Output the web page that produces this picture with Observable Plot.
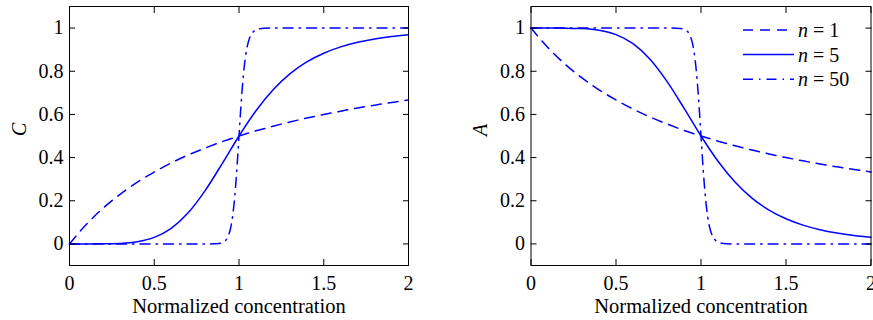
<!DOCTYPE html>
<html>
<head>
<meta charset="utf-8">
<script src="https://cdn.jsdelivr.net/npm/d3@7"></script>
<script src="https://cdn.jsdelivr.net/npm/@observablehq/plot@0.6"></script>
<style>
  body { margin: 0; background: #fff; }
  #wrap { position: relative; width: 873px; height: 320px; overflow: hidden; }
  #wrap > svg { position: absolute; top: 0; }
</style>
</head>
<body>
<div id="wrap"></div>
<script>
// ---- data ----
const xTicks = [0, 0.5, 1, 1.5, 2];
const yTicks = [0, 0.2, 0.4, 0.6, 0.8, 1];
const xLabel = "Normalized concentration";
const panelLabels = ["C", "A"];
const seriesNames = ["n = 1", "n = 5", "n = 50"];

const xSmooth = [0, 0.1, 0.2, 0.3, 0.4, 0.5, 0.6, 0.7, 0.8, 0.9, 1.0, 1.1, 1.2, 1.3, 1.4, 1.5, 1.6, 1.7, 1.8, 1.9, 2.0];
const C_n1 = [0, 0.091, 0.167, 0.231, 0.286, 0.333, 0.375, 0.412, 0.444, 0.474, 0.5, 0.524, 0.545, 0.565, 0.583, 0.6, 0.615, 0.63, 0.643, 0.655, 0.667];
const C_n5 = [0, 0, 0.0003, 0.0024, 0.0101, 0.0303, 0.0721, 0.1439, 0.2468, 0.3713, 0.5, 0.6169, 0.7133, 0.7878, 0.8432, 0.8836, 0.9129, 0.9342, 0.9497, 0.9612, 0.9697];
const A_n1 = [1, 0.909, 0.833, 0.769, 0.714, 0.667, 0.625, 0.588, 0.556, 0.526, 0.5, 0.476, 0.455, 0.435, 0.417, 0.4, 0.385, 0.37, 0.357, 0.345, 0.333];
const A_n5 = [1, 1, 0.9997, 0.9976, 0.9899, 0.9697, 0.9279, 0.8561, 0.7532, 0.6287, 0.5, 0.3831, 0.2867, 0.2122, 0.1568, 0.1164, 0.0871, 0.0658, 0.0503, 0.0388, 0.0303];

const xSteep = [0, 0.5, 0.8, 0.85, 0.88, 0.9, 0.91, 0.92, 0.93, 0.94, 0.95, 0.96, 0.97, 0.98, 0.99, 1, 1.01, 1.02, 1.03, 1.04, 1.05, 1.06, 1.07, 1.08, 1.09, 1.1, 1.12, 1.15, 1.2, 1.5, 2];
const C_n50 = [0, 0, 0, 0.0003, 0.0017, 0.0051, 0.0089, 0.0152, 0.0259, 0.0434, 0.0714, 0.115, 0.1791, 0.267, 0.377, 0.5, 0.6219, 0.7291, 0.8143, 0.8767, 0.9198, 0.9485, 0.9672, 0.9791, 0.9867, 0.9916, 0.9965, 0.9991, 1, 1, 1];
const A_n50 = [1, 1, 1, 0.9997, 0.9983, 0.9949, 0.9911, 0.9848, 0.9741, 0.9566, 0.9286, 0.885, 0.8209, 0.733, 0.623, 0.5, 0.3781, 0.2709, 0.1857, 0.1233, 0.0802, 0.0515, 0.0328, 0.0209, 0.0133, 0.0084, 0.0035, 0.0009, 0, 0, 0];

// ---- styles ----
const BLUE = "#0000ff";
const LW = 1.5;
const dashes = ["10,7", null, "10,6,1.5,6"];
const FONT = "'Liberation Serif', 'Times New Roman', serif";

const rows = (xs, ys) => xs.map((x, i) => ({x, y: ys[i]}));

function panel(label, series, {width, marginLeft, marginRight, labelDx}) {
  const lineMarks = series.map((s, i) =>
    Plot.line(rows(s.x, s.y), {
      x: "x", y: "y", stroke: BLUE, strokeWidth: LW,
      strokeDasharray: dashes[i], curve: "monotone-x"
    })
  );
  return Plot.plot({
    width, height: 320,
    marginLeft, marginRight, marginTop: 6, marginBottom: 55,
    style: {fontFamily: FONT, fontSize: "20px", color: "#000", background: "transparent"},
    x: {domain: [0, 2], label: null},
    y: {domain: [-0.1, 1.1], label: null},
    marks: [
      ...lineMarks,
      Plot.frame({stroke: "#000", strokeWidth: 1}),
      Plot.axisX({anchor: "bottom", ticks: xTicks, tickSize: 0, tickPadding: 10, tickFormat: d => String(d), label: null}),
      Plot.axisX({anchor: "bottom", ticks: xTicks, tickSize: -6, text: null, label: null}),
      Plot.axisX({anchor: "top", ticks: xTicks, tickSize: -6, text: null, label: null}),
      Plot.axisY({anchor: "left", ticks: yTicks, tickSize: 0, tickPadding: 6, tickFormat: d => String(d), label: null}),
      Plot.axisY({anchor: "left", ticks: yTicks, tickSize: -6, text: null, label: null}),
      Plot.axisY({anchor: "right", ticks: yTicks, tickSize: -6, text: null, label: null}),
      Plot.text([xLabel], {text: d => d, frameAnchor: "bottom", lineAnchor: "top", dy: 32.5, fontSize: 20.5}),
      Plot.text([label], {text: d => d, frameAnchor: "left", rotate: -90, lineAnchor: "bottom", dx: labelDx, fontSize: 20, fontStyle: "italic"})
    ]
  });
}

const wrap = document.getElementById("wrap");

const left = panel(panelLabels[0], [
  {x: xSmooth, y: C_n1}, {x: xSmooth, y: C_n5}, {x: xSteep, y: C_n50}
], {width: 436, marginLeft: 69, marginRight: 28, labelDx: -44});
left.style.left = "0px";
wrap.appendChild(left);

const right = panel(panelLabels[1], [
  {x: xSmooth, y: A_n1}, {x: xSmooth, y: A_n5}, {x: xSteep, y: A_n50}
], {width: 437, marginLeft: 94.5, marginRight: 2.5, labelDx: -44});
right.style.left = "436px";
wrap.appendChild(right);

// ---- legend (inside right panel, no box) ----
const leg = d3.select(wrap).append("svg")
  .attr("width", 873).attr("height", 320)
  .style("left", "0px").style("pointer-events", "none")
  .style("font-family", FONT).style("font-size", "20px");
const lineY = [30, 54.5, 79.3];
const textY = [37, 61.5, 86];
seriesNames.forEach((name, i) => {
  leg.append("line")
    .attr("x1", 743).attr("x2", 794)
    .attr("y1", lineY[i]).attr("y2", lineY[i])
    .attr("stroke", BLUE).attr("stroke-width", LW)
    .attr("stroke-dasharray", dashes[i]);
  const t = leg.append("text").attr("x", 798).attr("y", textY[i]).attr("fill", "#000");
  const [sym, ...rest] = name.split(" ");
  t.append("tspan").attr("font-style", "italic").text(sym);
  t.append("tspan").text(" " + rest.join(" "));
});
</script>
</body>
</html>
